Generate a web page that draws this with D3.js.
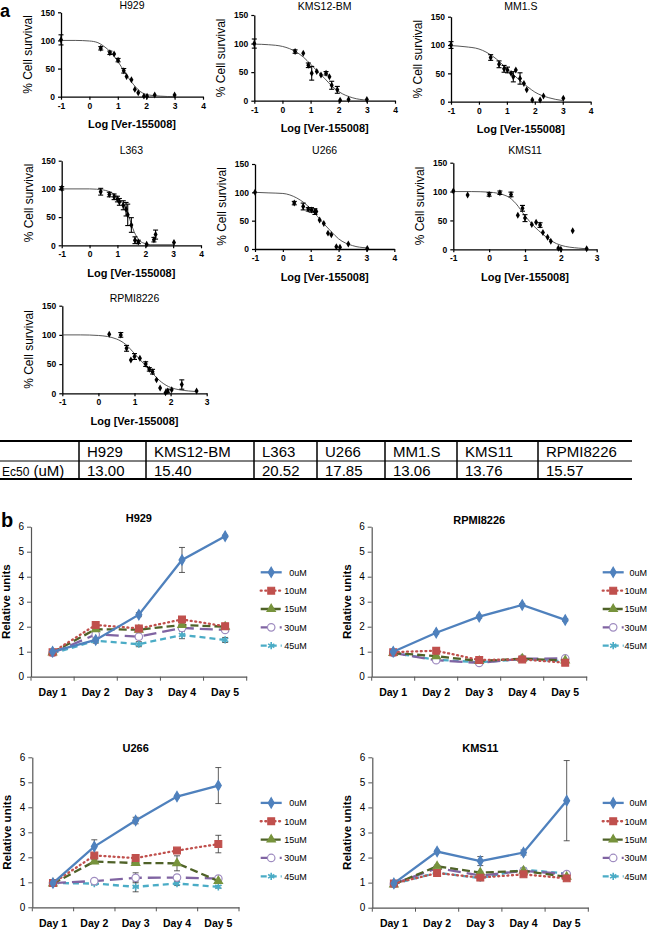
<!DOCTYPE html>
<html><head><meta charset="utf-8">
<script src="https://cdn.jsdelivr.net/npm/d3@7"></script>
<style>body{margin:0;background:#fff}svg{display:block;background:#fff}</style>
</head><body><svg id="c" width="648" height="930"></svg>
<script>
// ================= DATA: panel a (dose response) =================
const h929Dose = [-1, 0.40, 0.72, 0.87, 1.01, 1.21, 1.31, 1.48, 1.60, 1.72, 1.92, 2.03, 2.30, 3.00];
const h929Surv = [101, 86, 78, 76, 65, 46, 36, 30, 13, 7, 1, 1, 3, 3];
const h929Err  = [9, 3, 3, 0, 3, 4, 0, 0, 0, 0, 0, 0, 0, 0];
const h929FitX = [-1, -0.5, 0, 0.3, 0.5, 0.75, 1, 1.25, 1.5, 1.75, 2, 2.5, 3];
const h929FitY = [100, 100, 99, 96, 90, 79, 63, 43, 25, 11, 4, 1, 0];

const kms12Dose = [-1, 0.45, 0.74, 0.92, 1.04, 1.22, 1.37, 1.55, 1.67, 1.75, 1.95, 2.05, 2.35, 3.0];
const kms12Surv = [100, 86, 83, 62, 48, 51, 45, 48, 42, 27, 19, 1, 2, 2];
const kms12Err  = [8, 3, 0, 4, 12, 0, 0, 3, 0, 7, 6, 0, 0, 0];
const kms12FitX = [-1, -0.5, 0, 0.5, 0.75, 1, 1.25, 1.5, 1.75, 2, 2.5, 3];
const kms12FitY = [99, 98, 95, 85, 76, 64, 51, 39, 26, 16, 5, 1];

const mm1sDose = [-1, 0.42, 0.72, 0.90, 1.02, 1.15, 1.23, 1.32, 1.47, 1.61, 1.71, 1.91, 2.19, 2.31, 3.02];
const mm1sSurv = [100, 78, 66, 58, 56, 50, 44, 56, 41, 32, 21, 3, 3, 10, 6];
const mm1sErr  = [6, 5, 6, 6, 5, 0, 9, 0, 10, 0, 0, 0, 0, 0, 0];
const mm1sFitX = [-1, -0.5, 0, 0.5, 0.75, 1, 1.25, 1.5, 1.75, 2, 2.5, 3];
const mm1sFitY = [99, 97, 93, 80, 70, 58, 47, 36, 26, 17, 7, 2];

const l363Dose = [-1, 0.40, 0.71, 0.88, 1.00, 1.07, 1.21, 1.31, 1.37, 1.50, 1.63, 1.75, 2.05, 2.31, 2.37, 3.03];
const l363Surv = [101, 95, 90, 86, 82, 77, 71, 64, 54, 36, 9, 6, 2, 10, 19, 5];
const l363Err  = [3, 6, 4, 5, 5, 6, 8, 12, 19, 13, 6, 3, 0, 4, 8, 0];
const l363FitX = [-1, 0, 0.5, 0.8, 1, 1.2, 1.4, 1.6, 1.8, 2, 2.2, 3];
const l363FitY = [100, 100, 98, 93, 86, 73, 52, 24, 8, 3, 1, 1];

const u266Dose = [-1, 0.41, 0.73, 0.91, 1.03, 1.15, 1.20, 1.32, 1.47, 1.62, 1.74, 1.92, 2.05, 2.35, 3.03];
const u266Surv = [100, 81, 75, 70, 69, 66, 66, 51, 45, 28, 25, 4, 3, 9, 1];
const u266Err  = [0, 3, 6, 3, 4, 5, 0, 0, 0, 0, 0, 0, 0, 0, 0];
const u266FitX = [-1, -0.5, 0, 0.5, 0.75, 1, 1.25, 1.5, 1.75, 2, 2.5, 3];
const u266FitY = [100, 99, 98, 90, 82, 71, 57, 43, 30, 18, 6, 2];

const kms11Dose = [-1, -0.60, 0.0, 0.30, 0.61, 0.80, 0.93, 1.00, 1.19, 1.31, 1.42, 1.50, 1.63, 1.72, 1.93, 2.0, 2.33, 2.72];
const kms11Surv = [101, 94, 95, 98, 95, 59, 71, 54, 43, 47, 42, 29, 21, 14, 2, 0, 32, 1];
const kms11Err  = [0, 0, 3, 3, 4, 0, 5, 6, 0, 0, 4, 0, 0, 0, 0, 0, 0, 0];
const kms11FitX = [-1, -0.5, 0, 0.5, 0.75, 1, 1.25, 1.5, 1.75, 2, 2.5, 2.7];
const kms11FitY = [100, 100, 99, 92, 79, 58, 40, 26, 14, 7, 2, 1];

const rpmiDose = [0.30, 0.62, 0.78, 0.90, 1.0, 1.15, 1.31, 1.41, 1.50, 1.61, 1.71, 1.86, 1.92, 2.03, 2.31, 2.72];
const rpmiSurv = [101, 100, 77, 57, 63, 60, 50, 41, 37, 23, 9, 1, 4, 6, 15, 4];
const rpmiErr  = [0, 4, 5, 0, 5, 0, 4, 3, 4, 0, 0, 0, 3, 0, 8, 0];
const rpmiFitX = [-1, -0.5, 0, 0.5, 0.75, 1, 1.25, 1.5, 1.75, 2, 2.5, 2.7];
const rpmiFitY = [100, 100, 99, 93, 84, 68, 51, 34, 19, 10, 4, 3];

const survTicks = [0, 50, 100, 150];

// ================= DATA: EC50 table =================
const tableCells = ["H929", "KMS12-BM", "L363", "U266", "MM1.S", "KMS11", "RPMI8226"];
const ec50Values = ["13.00", "15.40", "20.52", "17.85", "13.06", "13.76", "15.57"];

// ================= DATA: panel b (growth) =================
const days = ["Day 1", "Day 2", "Day 3", "Day 4", "Day 5"];
const doses = ["0uM", "10uM", "15uM", "30uM", "45uM"];
const growthTicks = [0, 1, 2, 3, 4, 5, 6];

const h929Growth = [
  [1.00, 1.47, 2.48, 4.67, 5.62],
  [0.98, 2.07, 1.93, 2.29, 2.02],
  [0.97, 1.90, 1.88, 2.07, 2.00],
  [0.95, 1.69, 1.60, 1.95, 1.87],
  [0.93, 1.44, 1.30, 1.67, 1.47]];
const h929GrowthErr = [
  [0.04, 0.08, 0.08, 0.50, 0.04],
  [0.03, 0.08, 0.05, 0.10, 0.05],
  [0.03, 0.05, 0.05, 0.08, 0.05],
  [0.03, 0.10, 0.10, 0.10, 0.05],
  [0.03, 0.10, 0.10, 0.15, 0.10]];

const rpmiGrowth = [
  [1.00, 1.76, 2.40, 2.87, 2.27],
  [0.98, 1.04, 0.67, 0.69, 0.56],
  [0.95, 0.82, 0.63, 0.72, 0.65],
  [0.95, 0.66, 0.55, 0.72, 0.73],
  [0.95, 0.68, 0.58, 0.70, 0.62]];
const rpmiGrowthErr = [
  [0.03, 0.05, 0.06, 0.05, 0.05],
  [0.03, 0.04, 0.04, 0.04, 0.04],
  [0.03, 0.04, 0.04, 0.04, 0.04],
  [0.03, 0.04, 0.04, 0.04, 0.04],
  [0.03, 0.04, 0.04, 0.04, 0.04]];

const u266Growth = [
  [0.97, 2.43, 3.47, 4.43, 4.87],
  [0.97, 2.07, 1.97, 2.27, 2.53],
  [0.95, 1.83, 1.77, 1.76, 1.05],
  [0.97, 1.05, 1.18, 1.19, 1.15],
  [0.97, 0.95, 0.82, 0.95, 0.82]];
const u266GrowthErr = [
  [0.03, 0.27, 0.13, 0.05, 0.72],
  [0.03, 0.05, 0.05, 0.05, 0.35],
  [0.03, 0.08, 0.08, 0.30, 0.10],
  [0.03, 0.05, 0.20, 0.10, 0.05],
  [0.03, 0.05, 0.20, 0.08, 0.05]];

const kms11Growth = [
  [0.97, 2.24, 1.86, 2.20, 4.27],
  [0.97, 1.38, 1.20, 1.33, 1.17],
  [0.93, 1.65, 1.40, 1.47, 1.23],
  [0.95, 1.58, 1.28, 1.47, 1.34],
  [0.95, 1.40, 1.18, 1.52, 1.36]];
const kms11GrowthErr = [
  [0.03, 0.05, 0.18, 0.10, 1.60],
  [0.03, 0.05, 0.05, 0.05, 0.05],
  [0.03, 0.05, 0.05, 0.05, 0.05],
  [0.03, 0.05, 0.05, 0.05, 0.05],
  [0.03, 0.05, 0.10, 0.05, 0.05]];

// ================= STYLE / LAYOUT =================
const FONT = '"Liberation Sans", Arial, Helvetica, sans-serif';
const svg = d3.select("#c");
svg.append("rect").attr("width", 648).attr("height", 930).attr("fill", "#fff");

const seriesStyle = [
  {line: "#4F81BD", dash: null, cap: "butt", sym: d3.symbolDiamond, size: 30, fill: "#4F81BD", stroke: "#4F81BD"},
  {line: "#C0504D", dash: "1,3.6", cap: "round", sym: d3.symbolSquare, size: 46, fill: "#C0504D", stroke: "#C0504D"},
  {line: "#4F6228", dash: "8,4", cap: "butt", sym: d3.symbolTriangle, size: 30, fill: "#77933C", stroke: "#77933C"},
  {line: "#8064A2", dash: "13,6", cap: "butt", sym: d3.symbolCircle, size: 44, fill: "#fff", stroke: "#9F8CC0"},
  {line: "#4BACC6", dash: "6,4", cap: "butt", sym: d3.symbolAsterisk, size: 36, fill: "none", stroke: "#4BACC6"}
];

function styleText(sel, size, weight) {
  sel.attr("font-family", FONT).attr("font-size", size).attr("font-weight", weight || "normal").attr("fill", "#000");
}

// ---------- panel a ----------
const drPanels = [
  {name: "H929", dose: h929Dose, surv: h929Surv, err: h929Err, fx: h929FitX, fy: h929FitY, xMax: 4, x0: 61, x1: 203, yTop: 12.3, yBot: 96.7, titleY: 8.5},
  {name: "KMS12-BM", dose: kms12Dose, surv: kms12Surv, err: kms12Err, fx: kms12FitX, fy: kms12FitY, xMax: 4, x0: 254.3, x1: 395, yTop: 15, yBot: 100.7, titleY: 10},
  {name: "MM1.S", dose: mm1sDose, surv: mm1sSurv, err: mm1sErr, fx: mm1sFitX, fy: mm1sFitY, xMax: 4, x0: 451, x1: 590.7, yTop: 16.7, yBot: 101.7, titleY: 10},
  {name: "L363", dose: l363Dose, surv: l363Surv, err: l363Err, fx: l363FitX, fy: l363FitY, xMax: 4, x0: 61.7, x1: 201, yTop: 160.7, yBot: 245.3, titleY: 154},
  {name: "U266", dose: u266Dose, surv: u266Surv, err: u266Err, fx: u266FitX, fy: u266FitY, xMax: 4, x0: 255, x1: 394.3, yTop: 164, yBot: 249, titleY: 154},
  {name: "KMS11", dose: kms11Dose, surv: kms11Surv, err: kms11Err, fx: kms11FitX, fy: kms11FitY, xMax: 3, x0: 453.3, x1: 596.7, yTop: 162.7, yBot: 249.3, titleY: 154},
  {name: "RPMI8226", dose: rpmiDose, surv: rpmiSurv, err: rpmiErr, fx: rpmiFitX, fy: rpmiFitY, xMax: 3, x0: 62.3, x1: 206.7, yTop: 305.7, yBot: 393.3, titleY: 302}
];

function drawDR(p) {
  const g = svg.append("g");
  const x = d3.scaleLinear().domain([-1, p.xMax]).range([p.x0, p.x1]);
  const y = d3.scaleLinear().domain([0, 150]).range([p.yBot, p.yTop]);

  const ax = g.append("g").attr("transform", `translate(0,${p.yBot})`)
    .call(d3.axisBottom(x).tickValues(d3.range(-1, p.xMax + 1)).tickSize(3).tickSizeOuter(0).tickPadding(3).tickFormat(d => String(d)));
  const ay = g.append("g").attr("transform", `translate(${p.x0},0)`)
    .call(d3.axisLeft(y).tickValues(survTicks).tickSize(3).tickSizeOuter(0).tickPadding(3).tickFormat(d => String(d)));
  [ax, ay].forEach(a => {
    a.select(".domain").attr("stroke", "#000").attr("stroke-width", 1.3);
    a.selectAll(".tick line").attr("stroke", "#000").attr("stroke-width", 1.2);
    styleText(a.selectAll("text"), 8.5, "bold");
  });

  // fitted curve
  const fit = p.fx.map((v, i) => [v, p.fy[i]]);
  g.append("path").datum(fit)
    .attr("d", d3.line().x(d => x(d[0])).y(d => y(d[1])).curve(d3.curveMonotoneX))
    .attr("fill", "none").attr("stroke", "#444").attr("stroke-width", 0.9);

  // error bars
  const pts = p.dose.map((v, i) => ({d: v, s: p.surv[i], e: p.err[i]}));
  const eb = g.append("g").attr("stroke", "#000").attr("stroke-width", 1.1);
  pts.filter(d => d.e > 0).forEach(d => {
    eb.append("line").attr("x1", x(d.d)).attr("x2", x(d.d)).attr("y1", y(d.s - d.e)).attr("y2", y(d.s + d.e));
    [d.s - d.e, d.s + d.e].forEach(v => eb.append("line").attr("x1", x(d.d) - 2.5).attr("x2", x(d.d) + 2.5).attr("y1", y(v)).attr("y2", y(v)));
  });
  // markers
  g.append("g").selectAll("path").data(pts).join("path")
    .attr("d", d3.symbol(d3.symbolDiamond, 14))
    .attr("transform", d => `translate(${x(d.d)},${y(d.s)})`)
    .attr("fill", "#000");

  // titles
  const cx = (p.x0 + p.x1) / 2;
  styleText(g.append("text").attr("x", cx).attr("y", p.titleY).attr("text-anchor", "middle").text(p.name), 10.5);
  styleText(g.append("text").attr("x", cx).attr("y", p.yBot + 31.5).attr("text-anchor", "middle").text("Log [Ver-155008]"), 11, "bold");
  styleText(g.append("text").attr("transform", `translate(${p.x0 - 29},${(p.yTop + p.yBot) / 2}) rotate(-90)`)
    .attr("text-anchor", "middle").text("% Cell survival"), 12);
}
drPanels.forEach(drawDR);

// panel labels
styleText(svg.append("text").attr("x", 0).attr("y", 17).text("a"), 18, "bold");
styleText(svg.append("text").attr("x", 1).attr("y", 527).text("b"), 20, "bold");

// ---------- EC50 table ----------
const colEdges = [0, 79, 146, 254, 317, 385, 457, 538, 632];
const tTop = 441, tMid = 461, tBot = 479;
const tg = svg.append("g");
tg.append("line").attr("x1", 0).attr("x2", 632).attr("y1", tTop).attr("y2", tTop).attr("stroke", "#000").attr("stroke-width", 2);
tg.append("line").attr("x1", 0).attr("x2", 632).attr("y1", tMid).attr("y2", tMid).attr("stroke", "#000").attr("stroke-width", 1);
tg.append("line").attr("x1", 0).attr("x2", 632).attr("y1", tBot).attr("y2", tBot).attr("stroke", "#000").attr("stroke-width", 2);
colEdges.slice(1, -1).forEach(xe => tg.append("line").attr("x1", xe).attr("x2", xe).attr("y1", tTop).attr("y2", tBot).attr("stroke", "#000").attr("stroke-width", 1.5));
tableCells.forEach((c, i) => {
  styleText(tg.append("text").attr("x", colEdges[i + 1] + 8).attr("y", tMid - 4).text(c), 15);
  styleText(tg.append("text").attr("x", colEdges[i + 1] + 8).attr("y", tBot - 3.5).text(ec50Values[i]), 15);
});
const ecLabel = tg.append("text").attr("x", 2).attr("y", tBot - 3.5);
styleText(ecLabel, 15);
ecLabel.append("tspan").attr("font-size", 12).text("Ec50");
ecLabel.append("tspan").text(" (uM)");

// ---------- panel b ----------
const growthPanels = [
  {name: "H929", vals: h929Growth, errs: h929GrowthErr, x0: 31, x1: 246.7, yTop: 526.7, yBot: 676.7, titleY: 522, legX: 260.7, legEnd: 306.7},
  {name: "RPMI8226", vals: rpmiGrowth, errs: rpmiGrowthErr, x0: 371.7, x1: 586.7, yTop: 526.7, yBot: 676.7, titleY: 524, legX: 602.7, legEnd: 647},
  {name: "U266", vals: u266Growth, errs: u266GrowthErr, x0: 32.3, x1: 239, yTop: 757.3, yBot: 907.3, titleY: 752, legX: 260.7, legEnd: 306.7},
  {name: "KMS11", vals: kms11Growth, errs: kms11GrowthErr, x0: 372.3, x1: 588.3, yTop: 757.3, yBot: 907.7, titleY: 752, legX: 602.7, legEnd: 647}
];

function drawGrowth(p) {
  const g = svg.append("g");
  const x = d3.scaleBand().domain(days).range([p.x0, p.x1]).paddingInner(0).paddingOuter(0);
  const y = d3.scaleLinear().domain([0, 6]).range([p.yBot, p.yTop]);
  const axisCol = "#555";

  const ay = g.append("g").attr("transform", `translate(${p.x0},0)`)
    .call(d3.axisLeft(y).tickValues(growthTicks).tickSize(4).tickSizeOuter(0).tickPadding(3).tickFormat(d3.format("d")));
  ay.select(".domain").attr("stroke", axisCol).attr("stroke-width", 1.2);
  ay.selectAll(".tick line").attr("stroke", axisCol);
  styleText(ay.selectAll("text"), 10);

  const ax = g.append("g").attr("transform", `translate(0,${p.yBot})`)
    .call(d3.axisBottom(x).tickSize(0).tickSizeOuter(0).tickPadding(12));
  ax.select(".domain").attr("stroke", axisCol).attr("stroke-width", 1.2);
  styleText(ax.selectAll("text"), 10.5, "bold");
  // category boundary tick marks
  const bounds = days.map(d => x(d)).concat([x(days[days.length - 1]) + x.bandwidth()]);
  g.append("g").selectAll("line").data(bounds).join("line")
    .attr("x1", d => d).attr("x2", d => d).attr("y1", p.yBot).attr("y2", p.yBot + 4)
    .attr("stroke", axisCol).attr("stroke-width", 1);

  const cxOf = d => x(d) + x.bandwidth() / 2;
  const line = d3.line().x((v, i) => cxOf(days[i])).y(v => y(v));

  // error bars (drawn below lines)
  const eb = g.append("g").attr("stroke", "#333").attr("stroke-width", 0.8);
  p.vals.forEach((row, s) => row.forEach((v, i) => {
    const e = p.errs[s][i], cx = cxOf(days[i]);
    eb.append("line").attr("x1", cx).attr("x2", cx).attr("y1", y(v - e)).attr("y2", y(v + e));
    [v - e, v + e].forEach(w => eb.append("line").attr("x1", cx - 3).attr("x2", cx + 3).attr("y1", y(w)).attr("y2", y(w)));
  }));

  // series, 45uM first so 0uM is on top
  for (let s = doses.length - 1; s >= 0; s--) {
    const st = seriesStyle[s];
    g.append("path").datum(p.vals[s]).attr("d", line)
      .attr("fill", "none").attr("stroke", st.line).attr("stroke-width", 2.3)
      .attr("stroke-dasharray", st.dash).attr("stroke-linecap", st.cap);
    g.append("g").selectAll("path").data(p.vals[s]).join("path")
      .attr("d", d3.symbol(st.sym, st.size))
      .attr("transform", (v, i) => `translate(${cxOf(days[i])},${y(v)})`)
      .attr("fill", st.fill).attr("stroke", st.stroke).attr("stroke-width", s === 4 ? 1.6 : 1.2);
  }

  // title & y label
  styleText(g.append("text").attr("x", (p.x0 + p.x1) / 2).attr("y", p.titleY).attr("text-anchor", "middle").text(p.name), 11, "bold");
  styleText(g.append("text").attr("transform", `translate(${p.x0 - 21},${(p.yTop + p.yBot) / 2}) rotate(-90)`)
    .attr("text-anchor", "middle").text("Relative units"), 11.5, "bold");

  // legend
  doses.forEach((d, s) => {
    const st = seriesStyle[s];
    const ly = p.yTop + 45.6 + s * 18.35;
    g.append("line").attr("x1", p.legX).attr("x2", p.legX + 21).attr("y1", ly).attr("y2", ly)
      .attr("stroke", st.line).attr("stroke-width", 2.3).attr("stroke-dasharray", st.dash).attr("stroke-linecap", st.cap);
    g.append("path").attr("d", d3.symbol(st.sym, st.size)).attr("transform", `translate(${p.legX + 10.5},${ly})`)
      .attr("fill", st.fill).attr("stroke", st.stroke).attr("stroke-width", s === 4 ? 1.6 : 1.2);
    styleText(g.append("text").attr("x", p.legEnd).attr("y", ly + 3.3).attr("text-anchor", "end").text(d), 9);
  });
}
growthPanels.forEach(drawGrowth);
</script></body></html>
